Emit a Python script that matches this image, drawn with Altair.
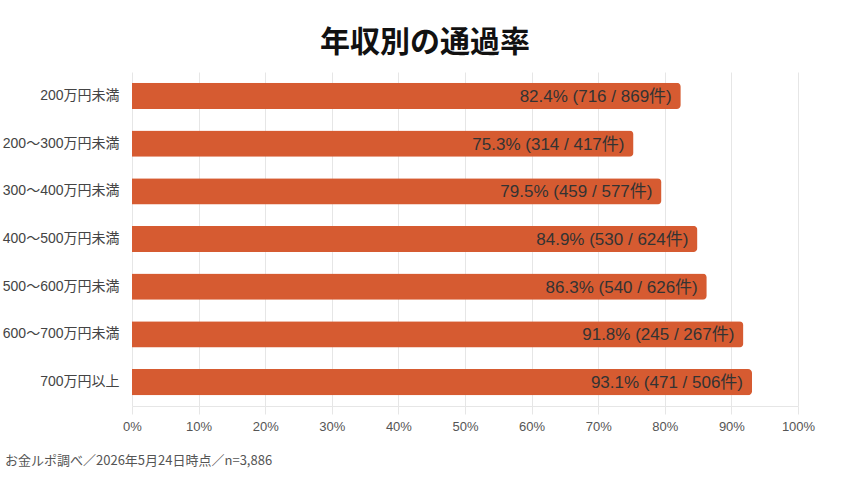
import altair as alt
import pandas as pd

# Pass rate by annual income bracket
brackets = ["200万円未満", "200〜300万円未満", "300〜400万円未満", "400〜500万円未満",
            "500〜600万円未満", "600〜700万円未満", "700万円以上"]
rates = [82.4, 75.3, 79.5, 84.9, 86.3, 91.8, 93.1]
passed = [716, 314, 459, 530, 540, 245, 471]
applied = [869, 417, 577, 624, 626, 267, 506]
x_ticks = [0, 10, 20, 30, 40, 50, 60, 70, 80, 90, 100]

FONT = "Liberation Sans, Noto Sans CJK JP"
CJK = "Noto Sans CJK JP"
BAR_COLOR = "#D65B31"

df = pd.DataFrame({
    "bracket": brackets,
    "rate": rates,
    "label": [f"{r:.1f}% ({p} / {a}件)" for r, p, a in zip(rates, passed, applied)],
})

y_enc = alt.Y("bracket:N", sort=brackets, title=None,
              scale=alt.Scale(paddingInner=0.45, paddingOuter=0.225),
              axis=alt.Axis(labelFontSize=14, labelColor="#444", labelFont=FONT,
                            labelPadding=13, ticks=False, domain=False, grid=False))
x_enc = alt.X("rate:Q", title=None,
              scale=alt.Scale(domain=[0, 100], nice=False),
              axis=alt.Axis(values=x_ticks, labelExpr="datum.value + '%'",
                            labelFontSize=13, labelColor="#555", labelFont=FONT,
                            labelFlush=False, labelPadding=6, grid=True,
                            gridColor="#e6e6e6", tickColor="#e6e6e6", tickSize=8,
                            domainColor="#e6e6e6"))

bars = alt.Chart(df).mark_bar(color=BAR_COLOR, cornerRadiusTopRight=4,
                              cornerRadiusBottomRight=4).encode(x=x_enc, y=y_enc)

labels = alt.Chart(df).mark_text(align="right", baseline="middle", dx=-9, dy=1,
                                 fontSize=17, color="#333", font=FONT).encode(
    x="rate:Q", y=alt.Y("bracket:N", sort=brackets), text="label:N")

note = alt.Chart(pd.DataFrame({"t": ["お金ルポ調べ／2026年5月24日時点／n=3,886"]})).mark_text(
    align="left", baseline="middle", fontSize=13, color="#555", font=CJK).encode(
    x=alt.value(-127), y=alt.value(389), text="t:N")

chart = alt.layer(bars, labels, note).properties(
    width=666, height=334,
    background="white",
    title=alt.TitleParams("年収別の通過率", fontSize=30, font=CJK, fontWeight="bold",
                          color="#111", anchor="middle", dx=-40, offset=14),
    autosize=alt.AutoSizeParams(type="none"),
    padding={"left": 132, "top": 72, "right": 52, "bottom": 74},
).configure_view(strokeWidth=0)

chart.save("out.html", embed_options={"renderer": "svg", "actions": False})
